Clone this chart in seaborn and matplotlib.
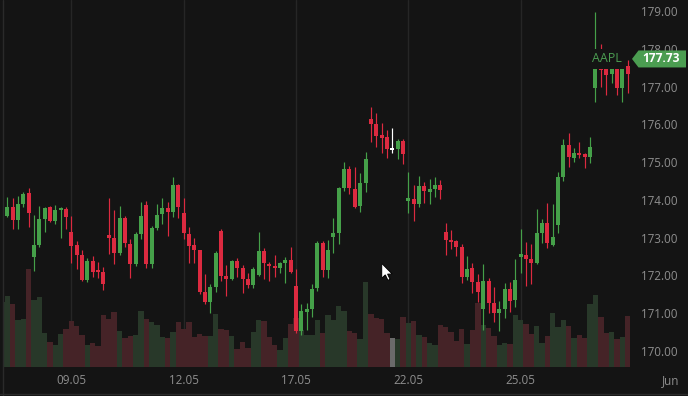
import numpy as np
import pandas as pd
import seaborn as sns
import matplotlib.pyplot as plt
from matplotlib.patches import Polygon
from matplotlib.lines import Line2D
import matplotlib.transforms as mtransforms

# AAPL hourly candles, 5 May - 30 May 2023
opens = [173.16, 173.58, 173.81, 173.47, 173.89, 174.17, 172.50, 172.81, 173.49, 173.80,
         173.45, 173.72, 173.77, 173.15, 172.81, 172.54, 171.87, 172.38, 172.14, 172.09,
         173.07, 173.00, 172.59, 173.51, 172.84, 172.31, 173.10, 173.87, 172.30, 173.25,
         173.62, 173.78, 173.69, 174.39, 173.64, 173.11, 172.81, 172.68, 171.57, 171.31,
         171.70, 173.18, 171.99, 171.90, 172.38, 172.20, 171.90, 171.75, 172.02, 172.65,
         172.30, 172.25, 172.21, 172.32, 172.41, 171.72, 170.54, 171.04, 171.10, 171.68,
         172.85, 172.14, 173.03, 173.12, 174.31, 174.81, 174.28, 173.85, 174.44, 176.14,
         176.01, 175.71, 175.66, 175.36, 175.35, 175.56, 173.98, 174.03, 173.89, 174.37,
         174.22, 174.28, 174.39, 173.15, 172.95, 172.90, 172.76, 171.97, 172.19, 171.83,
         171.10, 171.85, 171.26, 171.01, 171.10, 171.64, 171.34, 172.50, 172.53, 172.43,
         172.34, 173.12, 173.39, 172.80, 173.34, 174.61, 175.45, 175.12, 175.25, 175.22,
         175.14, 176.96, 177.62, 177.55, 177.33, 177.58, 176.95, 177.55]
highs = [173.62, 174.08, 174.06, 174.10, 174.21, 174.31, 173.59, 173.84, 173.80, 173.84,
         173.87, 173.81, 173.81, 173.57, 172.92, 172.67, 172.45, 172.52, 172.35, 172.23,
         174.04, 173.73, 173.84, 173.57, 172.97, 173.16, 173.94, 173.96, 173.30, 173.88,
         174.04, 173.95, 174.60, 174.41, 174.06, 173.28, 172.98, 172.68, 172.04, 171.77,
         172.65, 173.24, 172.28, 172.42, 172.45, 172.28, 172.06, 172.23, 173.14, 172.72,
         172.35, 172.53, 172.35, 172.48, 172.75, 172.16, 171.24, 171.28, 171.77, 172.90,
         172.90, 172.94, 173.51, 174.33, 175.01, 174.90, 174.86, 174.70, 175.26, 176.45,
         176.29, 176.04, 175.85, 175.90, 175.60, 175.60, 174.75, 174.39, 174.63, 174.48,
         174.55, 174.61, 174.53, 173.38, 173.20, 172.95, 172.83, 172.51, 172.32, 172.03,
         172.30, 171.92, 171.69, 171.33, 171.79, 171.82, 172.43, 173.22, 172.88, 172.82,
         173.75, 173.49, 173.91, 173.88, 174.75, 175.60, 175.78, 175.37, 175.54, 175.25,
         175.67, 178.98, 178.13, 177.60, 177.62, 177.62, 177.66, 177.70]
lows = [173.00, 173.55, 173.22, 173.24, 173.82, 173.29, 172.13, 172.75, 173.16, 173.42,
        173.35, 172.98, 173.22, 172.32, 172.16, 171.84, 171.82, 171.97, 171.93, 171.62,
        172.56, 172.30, 172.54, 172.75, 171.92, 172.26, 172.97, 172.19, 172.19, 173.20,
        173.36, 173.05, 173.55, 173.51, 172.97, 172.34, 172.34, 171.51, 171.24, 171.01,
        171.57, 171.84, 171.46, 171.88, 171.95, 171.54, 171.68, 171.68, 171.98, 171.90,
        171.84, 171.97, 172.06, 171.81, 172.06, 170.47, 170.42, 170.56, 170.90, 171.60,
        171.97, 171.92, 172.59, 172.83, 174.24, 174.16, 173.78, 173.69, 174.22, 175.54,
        175.41, 175.23, 175.10, 175.25, 175.08, 174.95, 173.65, 173.45, 173.82, 173.93,
        173.88, 174.08, 174.02, 172.54, 172.69, 172.51, 171.79, 171.88, 171.53, 171.31,
        170.56, 171.00, 170.78, 170.54, 170.87, 171.04, 171.16, 172.06, 171.72, 171.77,
        172.30, 172.85, 172.72, 172.78, 173.12, 174.51, 174.88, 175.01, 175.12, 174.85,
        174.97, 176.60, 176.98, 176.78, 177.09, 176.78, 176.60, 176.82]
closes = [173.57, 173.81, 173.47, 173.89, 174.16, 173.66, 172.81, 173.49, 173.78, 173.45,
          173.73, 173.78, 173.55, 172.78, 172.54, 171.88, 172.39, 172.10, 172.09, 171.77,
          173.00, 172.59, 173.51, 172.85, 172.31, 173.10, 173.57, 172.30, 173.25, 173.60,
          173.78, 173.69, 174.39, 173.82, 173.12, 172.78, 172.67, 171.57, 171.31, 171.70,
          172.59, 171.99, 171.91, 172.38, 172.20, 171.90, 171.75, 172.16, 172.65, 172.32,
          172.25, 172.21, 172.32, 172.41, 172.10, 170.54, 171.05, 171.10, 171.64, 172.87,
          172.14, 172.67, 173.12, 174.31, 174.81, 174.31, 173.82, 174.44, 175.07, 176.01,
          175.69, 175.65, 175.34, 175.33, 175.56, 175.21, 174.06, 173.89, 174.37, 174.24,
          174.28, 174.39, 174.26, 172.94, 172.89, 172.75, 171.97, 172.17, 171.83, 171.57,
          171.85, 171.28, 171.01, 171.10, 171.64, 171.33, 171.88, 172.57, 172.43, 172.34,
          173.12, 173.38, 172.85, 173.01, 174.61, 175.45, 175.14, 175.23, 175.20, 175.14,
          175.39, 177.62, 177.44, 177.31, 177.58, 176.95, 177.56, 177.33]
# volume in millions of shares
volumes = [13.0, 14.1, 12.5, 9.3, 9.5, 19.5, 13.3, 13.9, 6.8, 4.9,
           4.3, 6.5, 7.5, 9.1, 8.1, 6.3, 4.3, 4.7, 4.1, 10.3,
           9.5, 10.9, 7.1, 5.7, 6.1, 6.3, 11.1, 9.5, 8.9, 8.3,
           5.9, 5.7, 6.9, 8.9, 7.5, 8.9, 5.9, 6.5, 6.1, 6.1,
           10.5, 7.5, 7.3, 6.1, 3.5, 4.9, 3.7, 6.9, 9.3, 9.1,
           5.9, 4.3, 3.3, 5.7, 8.5, 9.7, 7.3, 6.3, 6.3, 9.3,
           6.7, 10.3, 9.3, 12.1, 11.1, 7.1, 6.7, 5.5, 17.0, 10.6,
           9.8, 9.5, 6.7, 5.7, 5.5, 9.9, 8.7, 9.1, 6.3, 5.9,
           4.7, 4.3, 8.3, 7.9, 7.0, 5.1, 7.5, 4.5, 7.3, 12.7,
           8.3, 7.7, 6.1, 4.3, 4.7, 4.5, 10.3, 9.3, 8.5, 6.5,
           8.1, 4.7, 6.1, 10.7, 7.9, 9.3, 8.1, 5.7, 6.3, 5.7,
           12.5, 14.3, 9.9, 6.8, 6.9, 5.5, 5.9, 10.2]
hover_idx = 73  # candle under the mouse pointer
last_price = 177.73
ticker = "AAPL"

tick_pos = [13, 34, 55, 76, 97, 125]
tick_labels = ["09.05", "12.05", "17.05", "22.05", "25.05", "Jun"]
price_ticks = [170, 171, 172, 173, 174, 175, 176, 177, 178, 179]

BG = "#141414"
GRID = "#262626"
TXT = "#8e8e8e"
UP = "#45a049"
DOWN = "#dc2a40"
VOL_UP = "#253b27"
VOL_DOWN = "#4b1d23"
TAG = "#4b9d51"

df = pd.DataFrame({"open": opens, "high": highs, "low": lows, "close": closes, "volume": volumes})
df["i"] = np.arange(len(df))
df["dir"] = np.where(df["close"] >= df["open"], "up", "down")
df.loc[hover_idx, "dir"] = "hover"

sns.set_theme(style="dark", rc={"axes.facecolor": BG, "figure.facecolor": BG,
                                "savefig.facecolor": BG, "axes.edgecolor": BG})
plt.rcParams["font.family"] = ["Open Sans", "DejaVu Sans"]

W, H = 688, 396
fig = plt.figure(figsize=(W / 100, H / 100), dpi=100)
ax = fig.add_axes([4 / W, 29.3 / H, 684 / W, 366.7 / H])

# volume histogram in the background
sns.barplot(data=df, x="i", y="volume", hue="dir", native_scale=True, dodge=False,
            width=1.0, errorbar=None, legend=False, linewidth=0, ax=ax,
            palette={"up": VOL_UP, "down": VOL_DOWN, "hover": "#6a6a6a"})
ax.set_ylim(0, 73.3)
ax.set_xlim(0.4, 128.3)
ax.set_yticks([])
ax.set_xlabel("")
ax.set_ylabel("")
ax.set_xticks(tick_pos, tick_labels)
ax.tick_params(axis="x", length=0, pad=5.5, labelsize=8.4, labelcolor=TXT)
for p in tick_pos:
    if p < len(df):
        ax.axvline(p, color=GRID, lw=1, zorder=0)
for s in ax.spines.values():
    s.set_visible(False)

# candles
ax2 = ax.twinx()
ax2.set_ylim(169.585, 179.29)
col = df["dir"].map({"up": UP, "down": DOWN, "hover": "#ffffff"}).tolist()
ax2.vlines(df["i"], df["low"], df["high"], colors=col, lw=0.85, zorder=2)
body_lo = df[["open", "close"]].min(axis=1)
body_h = (df["close"] - df["open"]).abs().clip(lower=0.05)
ax2.bar(df["i"], body_h, bottom=body_lo, width=0.75, color=col, linewidth=0, zorder=3)
ax2.set_yticks(price_ticks, [f"{v:.2f}" for v in price_ticks])
ax2.tick_params(axis="y", length=0, pad=-33.8, labelsize=8.4, labelcolor=TXT)
for lab in ax2.get_yticklabels():
    lab.set_horizontalalignment("left")
for s in ax2.spines.values():
    s.set_visible(False)

# ticker label on the last price row
blend = mtransforms.blended_transform_factory(ax2.transAxes, ax2.transData)
ax2.text(0.9035, last_price, ticker, transform=blend, ha="right", va="center",
         fontsize=9, color=TAG, zorder=5,
         bbox=dict(facecolor=BG, edgecolor="none", boxstyle="square,pad=0.25"))

# last price tag (pentagon pointing left)
fig.canvas.draw()
_, yp = ax2.transData.transform((0, last_price))
xr = ax2.transAxes.transform((1, 0))[0]
tag = Polygon([(xr - 56, yp), (xr - 49.5, yp + 8.5), (xr - 2, yp + 8.5),
               (xr - 2, yp - 8.5), (xr - 49.5, yp - 8.5)],
              closed=True, facecolor=TAG, edgecolor="none", transform=None, zorder=10)
fig.patches.append(tag)
fig.text((xr - 27) / W, yp / H, f"{last_price:.2f}", ha="center", va="center",
         fontsize=8.6, fontweight="bold", color="white", zorder=11)

# mouse pointer
cx, cy = 381.7, H - 263.3
cursor = [(0, 0), (0, -15), (3.6, -11.6), (6.2, -17), (8.4, -16), (5.9, -10.8), (10.6, -10.8)]
fig.patches.append(Polygon([(cx + a, cy + b) for a, b in cursor], closed=True,
                           facecolor="white", edgecolor="black", lw=0.7,
                           transform=None, zorder=12))

# frame lines
fig.add_artist(Line2D([3 / W, 3 / W], [0, 1], color="#2a2a2a", lw=1))
fig.add_artist(Line2D([0, 1], [2.5 / H, 2.5 / H], color="#2a2a2a", lw=1))

fig.savefig("out.png", dpi=100)
